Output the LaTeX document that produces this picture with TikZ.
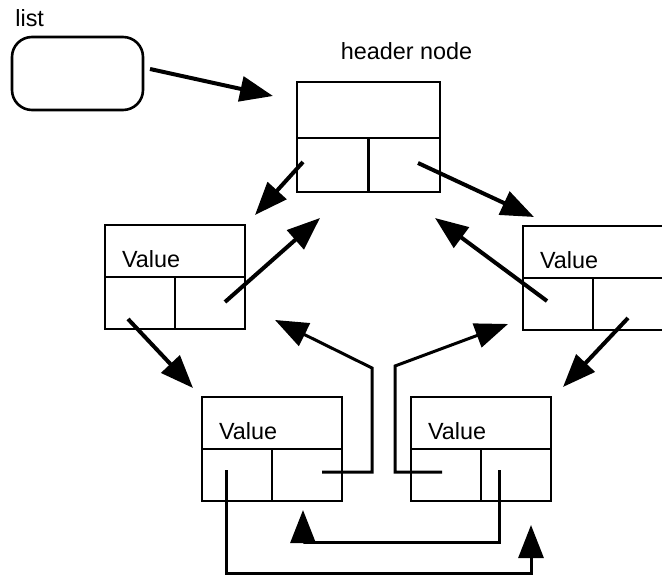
\documentclass[tikz,border=0pt]{standalone}
\usepackage{fontspec}
\setmainfont{Liberation Sans}
\usetikzlibrary{arrows.meta,positioning}
\begin{document}
\begin{tikzpicture}[x=0.5pt,y=-0.5pt,line join=miter,
	font=\fontsize{11.7}{14}\selectfont,
	>={Triangle[length=16.5pt,width=12.5pt]},
	box/.style={draw,line width=1.3pt,outer sep=0pt,inner sep=0pt},
	valcell/.style={box,minimum width=70pt,minimum height=26pt,inner xsep=8.5pt,text width=53pt,align=left,text height=16.4pt,text depth=0pt},
	ptrcell/.style={box,minimum width=35pt,minimum height=26pt},
	link/.style={->,line width=2pt},
	elbow/.style={->,line width=1.5pt}]
	\useasboundingbox (0,0) rectangle (662,576);
	% list variable
	\node[box,rounded corners=10pt,minimum width=65.5pt,minimum height=36.5pt] (list) at (77.5,73.5) {};
	\node[anchor=base west,inner sep=0pt] (listlabel) at (15,27) {list};
	% header node
	\node[anchor=base,inner sep=0pt] (hdlabel) at (406.5,60) {header node};
	\node[box,anchor=north west,minimum width=71.5pt,minimum height=28pt] (hd) at (297,82) {};
	\node[ptrcell,anchor=north west,minimum width=35.75pt,minimum height=27pt] (hdl) at (hd.south west) {};
	\node[ptrcell,anchor=north east,minimum width=35.75pt,minimum height=27pt] (hdr) at (hd.south east) {};
	% value nodes
	\node[valcell,anchor=north west] (lv) at (105,225) {Value};
	\node[ptrcell,anchor=north west] (lvl) at (lv.south west) {};
	\node[ptrcell,anchor=north east] (lvr) at (lv.south east) {};
	\node[valcell,anchor=north west] (rv) at (523,226) {Value};
	\node[ptrcell,anchor=north west] (rvl) at (rv.south west) {};
	\node[ptrcell,anchor=north east] (rvr) at (rv.south east) {};
	\node[valcell,anchor=north west] (bl) at (202,397) {Value};
	\node[ptrcell,anchor=north west] (bll) at (bl.south west) {};
	\node[ptrcell,anchor=north east] (blr) at (bl.south east) {};
	\node[valcell,anchor=north west] (br) at (411,397) {Value};
	\node[ptrcell,anchor=north west] (brl) at (br.south west) {};
	\node[ptrcell,anchor=north east] (brr) at (br.south east) {};
	% pointer tails and tips
	\coordinate (list-p) at (150,69);   \coordinate (list-to) at (273,96);
	\coordinate (hdl-p) at (303,162);   \coordinate (hdl-to) at (255,215);
	\coordinate (hdr-p) at (418,163);   \coordinate (hdr-to) at (534,217);
	\coordinate (lvr-p) at (225,302);   \coordinate (lvr-to) at (320,218);
	\coordinate (lvl-p) at (128,319);   \coordinate (lvl-to) at (193,388);
	\coordinate (rvl-p) at (547,301);   \coordinate (rvl-to) at (435,218);
	\coordinate (rvr-p) at (628,318);   \coordinate (rvr-to) at (563,387);
	\coordinate (blr-p) at (322,472);   \coordinate (blr-bend) at (372,368); \coordinate (blr-to) at (275,320);
	\coordinate (brl-p) at (442,472);   \coordinate (brl-bend) at (395,366); \coordinate (brl-to) at (508,324);
	\coordinate (brr-p) at (499,470);   \coordinate (brr-bend) at (303,542); \coordinate (brr-to) at (303,510);
	\coordinate (bll-p) at (226,470);   \coordinate (bll-bend) at (531,573); \coordinate (bll-to) at (531,525);
	% links
	\draw[link] (list-p) -- (list-to);
	\draw[link] (hdl-p) -- (hdl-to);
	\draw[link] (hdr-p) -- (hdr-to);
	\draw[link] (lvr-p) -- (lvr-to);
	\draw[link] (lvl-p) -- (lvl-to);
	\draw[link] (rvl-p) -- (rvl-to);
	\draw[link] (rvr-p) -- (rvr-to);
	\draw[elbow] (blr-p) -| (blr-bend) -- (blr-to);
	\draw[elbow] (brl-p) -| (brl-bend) -- (brl-to);
	\draw[elbow] (brr-p) |- (brr-bend) -- (brr-to);
	\draw[elbow] (bll-p) |- (bll-bend) -- (bll-to);
\end{tikzpicture}
\end{document}
